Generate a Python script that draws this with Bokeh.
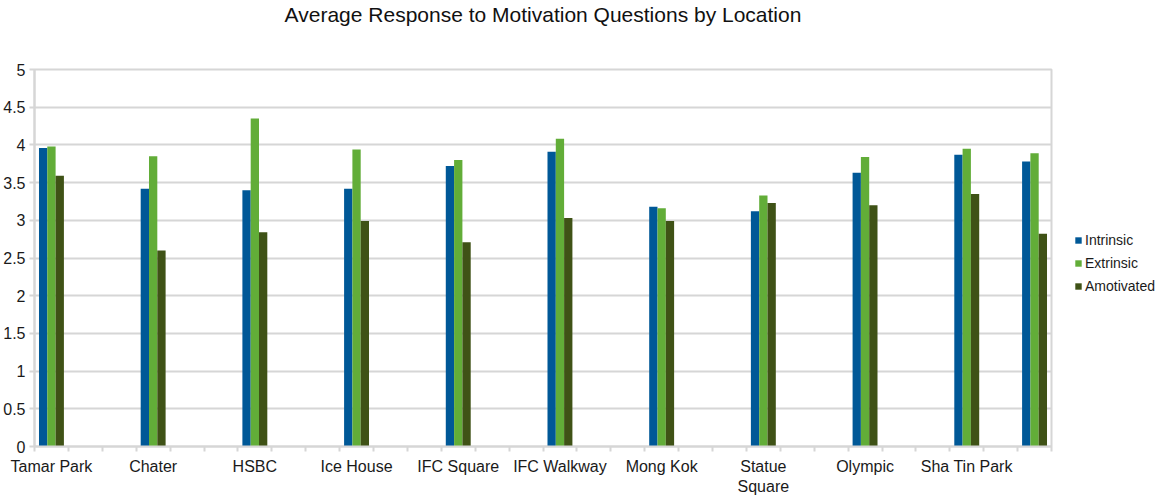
import numpy as np
from bokeh.plotting import figure
from bokeh.models import (ColumnDataSource, FixedTicker, NumeralTickFormatter,
                          Legend, LegendItem, Range1d, Title)
from bokeh.transform import dodge
from bokeh.embed import file_html
from bokeh.resources import INLINE

nan = float("nan")

# spreadsheet rows (empty rows between locations)
categories = ["Tamar Park", "", "", "Chater", "", "", "HSBC", "", "",
              "Ice House", "", "", "IFC Square", "", "", "IFC Walkway", "", "",
              "Mong Kok", "", "", "Statue\nSquare", "", "", "Olympic", "", "",
              "Sha Tin Park", "", ""]
intrinsic = [3.96, nan, nan, 3.42, nan, nan, 3.40, nan, nan, 3.42, nan, nan,
             3.72, nan, nan, 3.91, nan, nan, 3.18, nan, nan, 3.12, nan, nan,
             3.63, nan, nan, 3.87, nan, 3.78]
extrinsic = [3.98, nan, nan, 3.85, nan, nan, 4.35, nan, nan, 3.94, nan, nan,
             3.80, nan, nan, 4.08, nan, nan, 3.16, nan, nan, 3.33, nan, nan,
             3.84, nan, nan, 3.95, nan, 3.89]
amotivated = [3.59, nan, nan, 2.60, nan, nan, 2.84, nan, nan, 2.99, nan, nan,
              2.71, nan, nan, 3.03, nan, nan, 2.99, nan, nan, 3.23, nan, nan,
              3.20, nan, nan, 3.35, nan, 2.82]
series_names = ["Intrinsic", "Extrinsic", "Amotivated"]
y_ticks = [0, 0.5, 1, 1.5, 2, 2.5, 3, 3.5, 4, 4.5, 5]
title_text = "Average Response to Motivation Questions by Location"

colors = ["#005897", "#62ad38", "#3f5216"]
GRID = "#d6d6d6"
FONT = "Liberation Sans"

n = len(categories)
xc = np.arange(n) + 0.5
mask = ~np.isnan(np.array(intrinsic))
src = ColumnDataSource(dict(
    x=xc[mask],
    intrinsic=np.array(intrinsic)[mask],
    extrinsic=np.array(extrinsic)[mask],
    amotivated=np.array(amotivated)[mask],
))

p = figure(frame_width=1017, frame_height=377, output_backend="svg",
           toolbar_location=None, title=None,
           x_range=Range1d(0, n), y_range=Range1d(0, 5),
           min_border_left=30, min_border_right=105, min_border_top=0,
           min_border_bottom=40)

bw = 0.245
renderers = []
for field, off, col in zip(["intrinsic", "extrinsic", "amotivated"], [-bw, 0, bw], colors):
    r = p.vbar(x=dodge("x", off, range=p.x_range), top=field, width=bw, bottom=0,
               source=src, fill_color=col, line_color=None)
    renderers.append(r)

# spacer + title
p.add_layout(Title(text=" ", text_font_size="38px", standoff=0), "above")
p.add_layout(Title(text=title_text, align="center", text_font=FONT,
                   text_font_size="21px", text_font_style="normal",
                   text_color="#111111", standoff=0), "above")

# grid
p.xgrid.visible = False
p.ygrid.grid_line_color = GRID
p.ygrid.grid_line_width = 2
p.ygrid.ticker = FixedTicker(ticks=y_ticks)
p.outline_line_color = GRID
p.outline_line_width = 2

# y axis
p.yaxis.ticker = FixedTicker(ticks=y_ticks)
p.yaxis.formatter = NumeralTickFormatter(format="0.[0]")
p.yaxis.axis_line_color = GRID
p.yaxis.axis_line_width = 2
p.yaxis.major_tick_line_color = GRID
p.yaxis.major_tick_line_width = 2
p.yaxis.major_tick_out = 5
p.yaxis.major_tick_in = 0
p.yaxis.minor_tick_line_color = None
p.yaxis.major_label_standoff = 4
p.yaxis.major_label_text_font = FONT
p.yaxis.major_label_text_font_size = "16px"
p.yaxis.major_label_text_color = "#1a1a1a"

# x axis
label_pos = [float(x) for x, c in zip(xc, categories) if c]
overrides = {float(x): c for x, c in zip(xc, categories) if c}
p.xaxis.ticker = FixedTicker(ticks=label_pos, minor_ticks=list(range(n + 1)))
p.xaxis.major_label_overrides = overrides
p.xaxis.axis_line_color = GRID
p.xaxis.axis_line_width = 2
p.xaxis.major_tick_line_color = None
p.xaxis.major_tick_out = 4
p.xaxis.minor_tick_line_color = GRID
p.xaxis.minor_tick_line_width = 2
p.xaxis.minor_tick_out = 5
p.xaxis.minor_tick_in = 0
p.xaxis.major_label_standoff = 6
p.xaxis.major_label_text_font = FONT
p.xaxis.major_label_text_font_size = "16px"
p.xaxis.major_label_text_color = "#1a1a1a"

legend = Legend(items=[LegendItem(label=nm, renderers=[r]) for nm, r in zip(series_names, renderers)],
                location=(23, 152), orientation="vertical",
                glyph_width=8, glyph_height=8, label_standoff=3, spacing=7,
                label_height=16, label_text_font=FONT, label_text_font_size="14px",
                label_text_color="#1a1a1a", border_line_color=None,
                background_fill_alpha=0, margin=0, padding=0)
p.add_layout(legend, "right")

open("out.html", "w").write(file_html(p, INLINE))
